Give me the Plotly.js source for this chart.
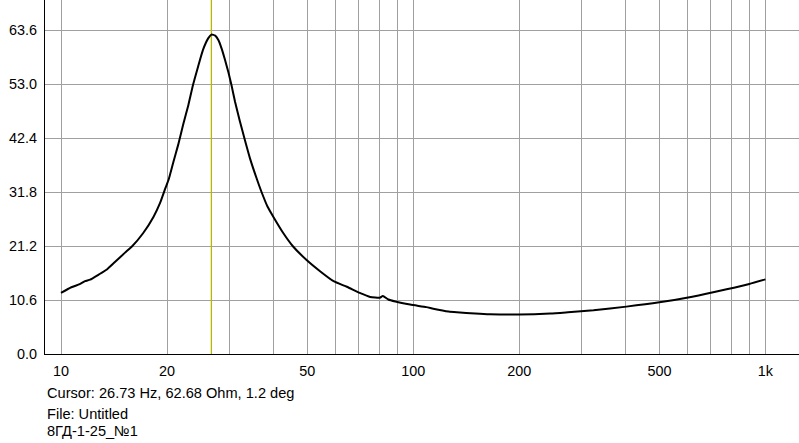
<!DOCTYPE html>
<html>
<head>
<meta charset="utf-8">
<script src="https://cdn.plot.ly/plotly-3.0.1.min.js"></script>
<style>html,body{margin:0;padding:0;background:#fff;}#chart{width:799px;height:443px;}</style>
</head>
<body>
<div id="chart"></div>
<script>
// Frequency (Hz)
const freq = [10.0, 10.7, 11.3, 11.7, 12.1, 12.8, 13.5, 14.2, 15.2, 15.9, 17.1, 18.3, 19.1, 19.8, 20.2,
  20.85, 21.5, 22.2, 23.0, 23.7, 24.5, 25.3, 26.2, 26.73, 27.4, 28.0, 28.6, 29.2, 29.9, 30.5, 31.2,
  32.2, 33.3, 34.4, 36.0, 37.1, 38.6, 40.1, 42.8, 45.6, 49.9, 54.5, 59.4, 64.8, 70.5, 75.5, 80.4, 82.0,
  85.0, 89.0, 98.0, 109, 114, 126, 133, 150, 165, 200, 245, 275, 325, 403, 500, 620, 776, 900, 1000];
// Impedance (Ohm)
const imped = [12.0, 13.1, 13.7, 14.3, 14.6, 15.6, 16.6, 18.0, 19.9, 21.1, 23.7, 26.9, 29.6, 32.6, 34.2,
  37.7, 41.0, 44.9, 48.9, 52.8, 56.4, 59.7, 62.0, 62.7, 62.5, 61.6, 59.9, 57.8, 55.2, 52.7, 49.5,
  45.7, 41.9, 38.4, 34.3, 31.8, 28.9, 26.9, 23.7, 21.1, 18.4, 16.2, 14.3, 13.2, 12.0, 11.2, 11.05, 11.4,
  10.7, 10.3, 9.7, 9.2, 8.9, 8.35, 8.2, 7.95, 7.8, 7.75, 7.95, 8.2, 8.6, 9.3, 10.15, 11.25, 12.7, 13.75, 14.65];

const xTickVals = [10,20,30,40,50,60,70,80,90,100,200,300,400,500,600,700,800,900,1000];
const xTickText = ['10','20','','','50','','','','','100','200','','','500','','','','','1k'];
const yTickVals = [0, 10.6, 21.2, 31.8, 42.4, 53.0, 63.6];
const yTickText = ['0.0','10.6','21.2','31.8','42.4','53.0','63.6'];

const cursorFreq = 26.73;
const yMax = 69.49;
const infoLines = ['Cursor: 26.73 Hz, 62.68 Ohm, 1.2 deg', 'File: Untitled', '8ГД-1-25_№1'];

const traces = [
  {x: [cursorFreq, cursorFreq], y: [0, yMax], mode: 'lines', line: {color: '#b8b800', width: 1.3}, hoverinfo: 'skip'},
  {x: freq, y: imped, mode: 'lines', line: {color: '#000000', width: 2, shape: 'spline', smoothing: 0.5}}
];

const fam = '"Liberation Sans", Arial, sans-serif';
const tickFont = {family: fam, size: 14.4, color: '#000'};
const annFont = {family: fam, size: 14.6, color: '#000'};
const shifts = [-39, -60, -77];
const annotations = infoLines.map((t, i) => ({
  text: t, xref: 'paper', yref: 'paper', x: 0, y: 0, xanchor: 'left', yanchor: 'middle',
  yshift: shifts[i], showarrow: false, font: annFont
}));

const layout = {
  width: 799, height: 443,
  margin: {l: 45, r: 0, t: 0, b: 89},
  paper_bgcolor: '#fff', plot_bgcolor: '#fff',
  showlegend: false,
  font: tickFont,
  xaxis: {
    type: 'log', range: [0.95457, 3.0954],
    tickvals: xTickVals, ticktext: xTickText,
    showgrid: true, gridcolor: '#a0a0a0', gridwidth: 1,
    showline: true, linecolor: '#000', linewidth: 1,
    ticks: '', zeroline: false, tickfont: tickFont, ticklabelstandoff: 4
  },
  yaxis: {
    range: [0, yMax],
    tickvals: yTickVals, ticktext: yTickText,
    showgrid: true, gridcolor: '#a0a0a0', gridwidth: 1,
    showline: true, linecolor: '#000', linewidth: 1,
    ticks: '', zeroline: false, tickfont: tickFont, ticklabelstandoff: 4
  },
  annotations: annotations
};

Plotly.newPlot('chart', traces, layout, {staticPlot: true});
</script>
</body>
</html>
